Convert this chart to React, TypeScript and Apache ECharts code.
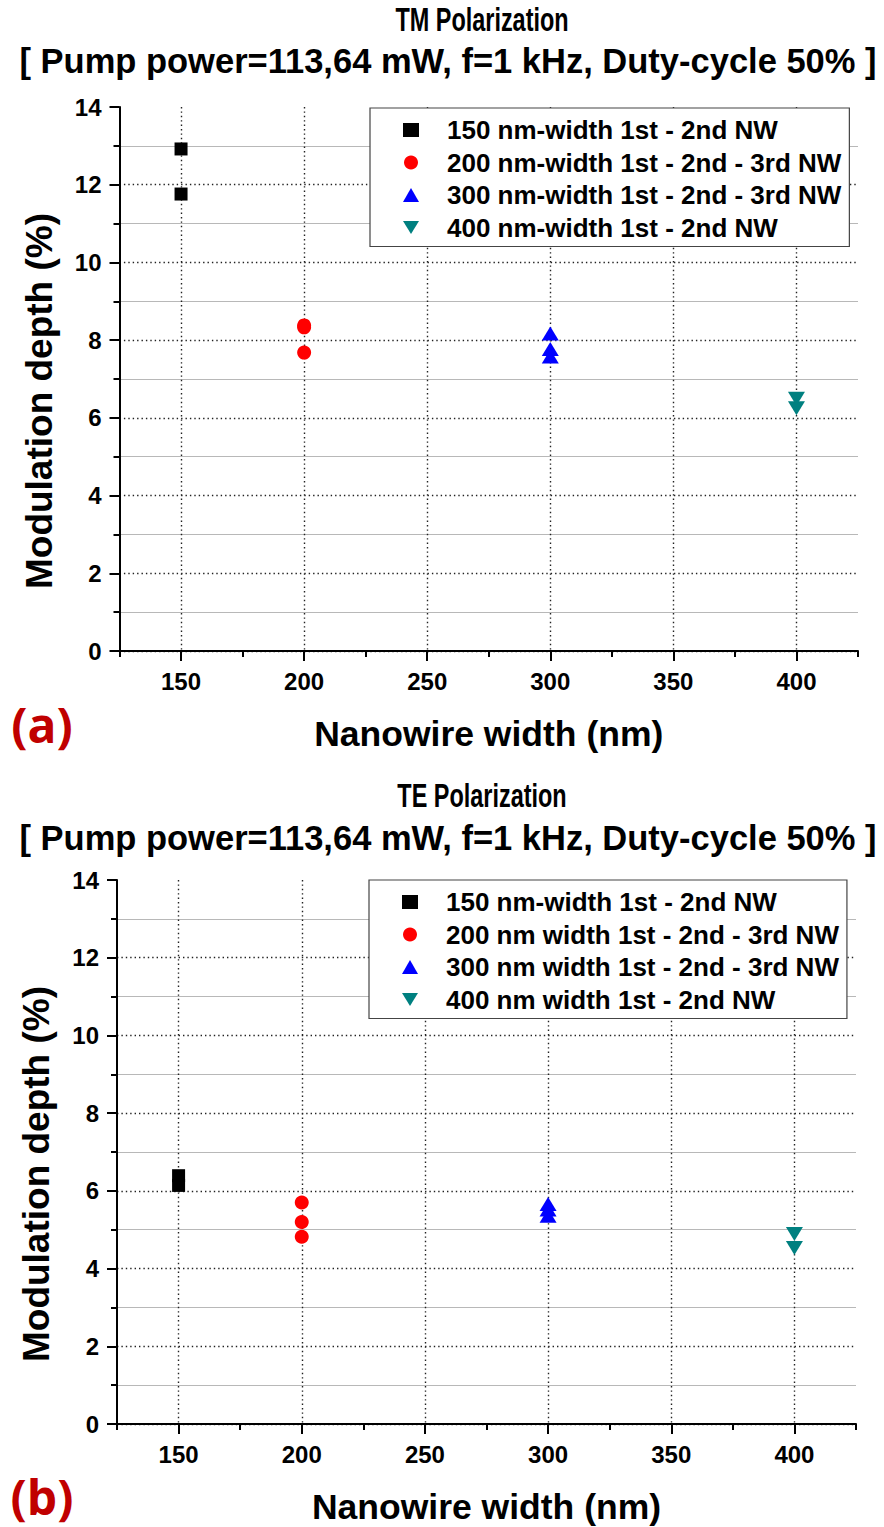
import React, { useEffect, useRef } from "react";
import * as echarts from "echarts";

// ---------- data ----------
const xTickLabels = [150, 200, 250, 300, 350, 400];
const yTickLabels = [0, 2, 4, 6, 8, 10, 12, 14];

const tmTitle = "TM Polarization";
const teTitle = "TE Polarization";
const subTitle = "[ Pump power=113,64 mW, f=1 kHz, Duty-cycle 50% ]";

const tmNames = [
  "150 nm-width 1st - 2nd NW",
  "200 nm-width 1st - 2nd - 3rd NW",
  "300 nm-width 1st - 2nd - 3rd NW",
  "400 nm-width 1st - 2nd NW",
];
const teNames = [
  "150 nm-width 1st - 2nd NW",
  "200 nm width 1st - 2nd - 3rd NW",
  "300 nm width 1st - 2nd - 3rd NW",
  "400 nm width 1st - 2nd NW",
];
const widths = [150, 200, 300, 400];

// TM modulation depth (%)
const tm150 = [12.92, 11.76];
const tm200 = [8.38, 8.33, 7.68];
const tm300 = [8.17, 7.77, 7.58];
const tm400 = [6.49, 6.25];
// TE modulation depth (%)
const te150 = [6.39, 6.14];
const te200 = [5.7, 5.2, 4.82];
const te300 = [5.66, 5.52, 5.36];
const te400 = [4.89, 4.53];

const colors = ["#000000", "#ff0000", "#0000ff", "#008080"];
const symbols = ["rect", "circle", "triangle", "triangle"];
const legendIcons = ["rect", "circle", "triangle", "path://M0,0 L20,0 L10,16 Z"];
const symbolSizes: any[] = [13, 14, [17, 14], [17, 14]];
const symbolRotates = [0, 0, 0, 180];

const FONT = "Liberation Sans, Arial, sans-serif";

export default function App() {
  const ref = useRef<HTMLDivElement>(null);
  useEffect(() => {
    if (!ref.current) return;
    const chart = echarts.init(ref.current, null, { renderer: "svg" });

    const panels = [
      { L: 119.5, T: 107, W: 738.5, H: 544, title: tmTitle, names: tmNames, vals: [tm150, tm200, tm300, tm400], t1: 19.5, t2: 61, legendLeft: 370, legendTop: 108, label: "(a)", labelY: 724 },
      { L: 117, T: 880, W: 739, H: 544, title: teTitle, names: teNames, vals: [te150, te200, te300, te400], t1: 795, t2: 838, legendLeft: 369, legendTop: 880, label: "(b)", labelY: 1496 },
    ];

    const grid: any[] = [];
    const xAxis: any[] = [];
    const yAxis: any[] = [];
    const series: any[] = [];
    const legend: any[] = [];
    const graphic: any[] = [];

    panels.forEach((p) => {
      const gA = grid.length;
      grid.push({ left: p.L, top: p.T, width: p.W, height: p.H });
      // inner grid for major x ticks/labels/split lines (150..400)
      const gB = grid.length;
      grid.push({ left: p.L + (p.W * 25) / 300, top: p.T, width: (p.W * 250) / 300, height: p.H });
      // grid for major horizontal split lines (0..12)
      const gC = grid.length;
      grid.push({ left: p.L, top: p.T + (p.H * 2) / 14, width: p.W, height: (p.H * 12) / 14 });

      const xA = xAxis.length;
      xAxis.push({
        type: "value", gridIndex: gA, min: 125, max: 425, interval: 25,
        axisLine: { show: true, lineStyle: { color: "#000", width: 2 } },
        axisTick: { show: true, inside: false, length: 6, lineStyle: { color: "#000", width: 2 } },
        axisLabel: { show: false },
        splitLine: { show: false },
      });
      xAxis.push({
        type: "value", gridIndex: gB, min: xTickLabels[0], max: xTickLabels[xTickLabels.length - 1], interval: 50,
        axisLine: { show: false },
        axisTick: { show: true, inside: false, length: 10, lineStyle: { color: "#000", width: 2 } },
        axisLabel: { show: true, margin: 18, color: "#000", fontFamily: FONT, fontWeight: "bold", fontSize: 24 },
        splitLine: { show: true, lineStyle: { color: "#222", width: 1.4, type: [1.4, 3] } },
        name: "Nanowire width (nm)", nameLocation: "middle", nameGap: 65,
        nameTextStyle: { color: "#000", fontFamily: FONT, fontWeight: "bold", fontSize: 35.5 },
      });
      xAxis.push({ type: "value", gridIndex: gC, min: 125, max: 425, show: false });

      const yA = yAxis.length;
      yAxis.push({
        type: "value", gridIndex: gA, min: yTickLabels[0], max: yTickLabels[yTickLabels.length - 1], interval: 2,
        axisLine: { show: true, lineStyle: { color: "#000", width: 2 } },
        axisTick: { show: true, inside: false, length: 10, lineStyle: { color: "#000", width: 2 } },
        minorTick: { show: true, splitNumber: 2, length: 6, lineStyle: { color: "#000", width: 2 } },
        minorSplitLine: { show: true, lineStyle: { color: "#b8b8b8", width: 1.2 } },
        axisLabel: { show: true, margin: 18, color: "#000", fontFamily: FONT, fontWeight: "bold", fontSize: 24 },
        splitLine: { show: false },
        name: "Modulation depth (%)", nameLocation: "middle", nameGap: 62,
        nameTextStyle: { color: "#000", fontFamily: FONT, fontWeight: "bold", fontSize: 37, padding: [0, 44, 0, 0] },
      });
      yAxis.push({ type: "value", gridIndex: gB, min: 0, max: 14, show: false });
      yAxis.push({
        type: "value", gridIndex: gC, min: 0, max: 12, interval: 2,
        axisLine: { show: false }, axisTick: { show: false }, axisLabel: { show: false },
        splitLine: { show: true, lineStyle: { color: "#222", width: 1.4, type: [1.4, 3] } },
      });

      p.names.forEach((name, si) => {
        series.push({
          type: "scatter", name, xAxisIndex: xA, yAxisIndex: yA,
          symbol: symbols[si], symbolSize: symbolSizes[si], symbolRotate: symbolRotates[si],
          itemStyle: { color: colors[si], opacity: 1 },
          data: p.vals[si].map((v) => [widths[si], v]),
          z: 5,
        });
      });

      legend.push({
        orient: "vertical", left: p.legendLeft, top: p.legendTop,
        data: p.names.map((n, i) => ({ name: n, icon: legendIcons[i] })),
        selectedMode: false,
        itemWidth: 16, itemHeight: 14, itemGap: 6.5,
        padding: [9, 8, 6, 33],
        borderColor: "#444", borderWidth: 1.2, backgroundColor: "#fff",
        textStyle: { color: "#000", fontFamily: FONT, fontWeight: "bold", fontSize: 26, lineHeight: 26, padding: [0, 0, 0, 23] },
      });

      graphic.push({
        type: "text", x: 482, y: p.t1, scaleX: 0.69,
        style: { text: p.title, fill: "#000", font: "bold 34px " + FONT, align: "center", verticalAlign: "middle" },
      });
      graphic.push({
        type: "text", x: 448, y: p.t2,
        style: { text: subTitle, fill: "#000", font: "bold 34.5px " + FONT, align: "center", verticalAlign: "middle" },
      });
      graphic.push({
        type: "text", x: 42, y: p.labelY,
        style: { text: p.label, fill: "#c00000", font: "bold 48px 'Open Sans', sans-serif", lineHeight: 52, align: "center", verticalAlign: "middle" },
      });
    });

    chart.setOption({
      animation: false,
      backgroundColor: "#fff",
      grid, xAxis, yAxis, series, legend, graphic,
    });
    return () => chart.dispose();
  }, []);
  return <div ref={ref} style={{ position: "absolute", left: 0, top: 0, width: 884, height: 1527 }} />;
}
